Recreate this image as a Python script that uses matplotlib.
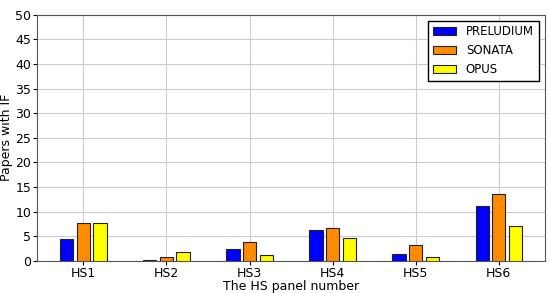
import numpy as np
import matplotlib
matplotlib.use("Agg")
import matplotlib.pyplot as plt

panels = ["HS1", "HS2", "HS3", "HS4", "HS5", "HS6"]
prelude = [4.4, 0.3, 2.4, 6.4, 1.35, 11.1]
sonata = [7.7, 0.8, 3.8, 6.7, 3.2, 13.6]
opus = [7.7, 1.9, 1.2, 4.6, 0.8, 7.1]

plt.rcParams["font.size"] = 9

fig, ax = plt.subplots(figsize=(5.5, 2.93), dpi=100)
x = np.arange(len(panels))
w = 0.16
ax.bar(x - 0.2, prelude, w, color="blue", edgecolor="#222222", linewidth=0.8, label="PRELUDIUM", zorder=3)
ax.bar(x, sonata, w, color="darkorange", edgecolor="#222222", linewidth=0.8, label="SONATA", zorder=3)
ax.bar(x + 0.2, opus, w, color="yellow", edgecolor="#222222", linewidth=0.8, label="OPUS", zorder=3)

ax.set_xticks(x)
ax.set_xticklabels(panels)
ax.set_xlim(-0.56, 5.55)
ax.set_ylim(0, 50)
ax.set_yticks(range(0, 51, 5))
ax.tick_params(length=3, pad=1)
ax.grid(True, color="#cccccc", linewidth=0.8, zorder=0)
for s in ax.spines.values():
    s.set_color("#555555")
ax.set_xlabel("The HS panel number", labelpad=0)
ax.set_ylabel("Papers with IF", labelpad=2)
ax.legend(loc="upper right", fancybox=False, edgecolor="black", framealpha=1, fontsize=8.5)

fig.subplots_adjust(left=0.067, right=0.99, top=0.95, bottom=0.109)
fig.savefig("out.png", dpi=100)
